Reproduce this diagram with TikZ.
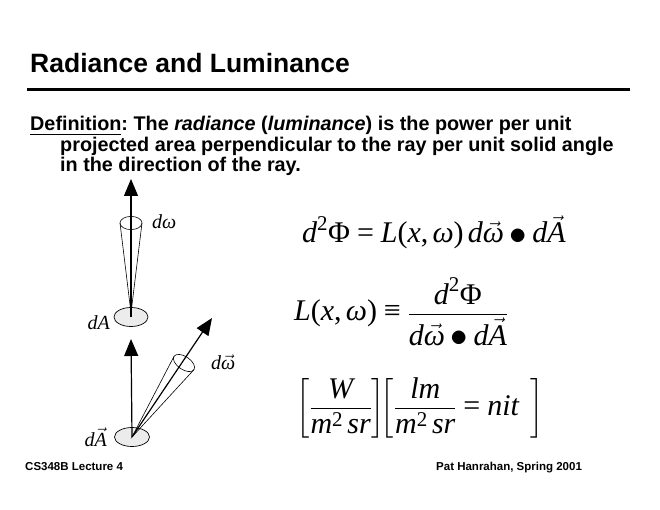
\documentclass[tikz,border=0pt]{standalone}
\usepackage{amsmath}
\usepackage{graphicx}
\usepackage{fontspec}
\setmainfont{Liberation Sans}
\newfontfamily\tms{Liberation Serif}
\usetikzlibrary{arrows.meta,shapes.geometric}
\frenchspacing
\newcommand\mi[1]{\text{\tms\itshape #1}}
\newcommand\mup[1]{\text{\tms #1}}
\newcommand\bul{\mathbin{\vcenter{\hbox{\scalebox{1.4}{$\bullet$}}}}}
\newcommand\eqs{\mathrel{\mup{=}}}
\newcommand\eqv{\mathrel{\mup{≡}}}
\tikzset{
  ray/.style={line width=1.2pt,-{Triangle[length=17pt,width=14pt]}},
  thinl/.style={line width=0.6pt},
  patch/.style={line width=0.7pt,fill=gray!15},
  lbl/.style={inner sep=0pt,font=\fontsize{20}{22}\selectfont},
  eq/.style={inner sep=0pt,font=\fontsize{30}{34}\selectfont},
  body/.style={inner sep=0pt,anchor=base west,font=\fontsize{19.8}{21}\selectfont\bfseries},
  foot/.style={inner sep=0pt,anchor=base west,font=\fontsize{11.5}{13}\selectfont\bfseries}
}
\begin{document}
\begin{tikzpicture}[x=1pt,y=-1pt]
\useasboundingbox (0,0) rectangle (660,510);
% title
\node[inner sep=0pt,anchor=base west,font=\fontsize{26.5}{30}\selectfont\bfseries] (title) at (30,73) {Radiance and Luminance};
\coordinate (rl) at (27,90);
\coordinate (rr) at (630,90);
\draw[line width=3pt] (rl) -- (rr);
% definition
\node[body] (def1) at (30,131) {\underline{Definition}: The \textit{radiance} (\textit{luminance}) is the power per unit};
\node[body] (def2) at (60,151.5) {projected area perpendicular to the ray per unit solid angle};
\node[body] (def3) at (60,172) {in the direction of the ray.};
% top diagram
\coordinate (o1) at (131,317);
\coordinate (t1) at (131,179);
\coordinate (cl) at (120,223);
\coordinate (cr) at (142,223);
\coordinate (ap) at (131,313);
\node[draw,patch,ellipse,minimum width=34pt,minimum height=19pt,inner sep=0pt] (dA1) at (o1) {};
\draw[thinl] (cl) -- (ap) -- (cr);
\draw[thinl] (131,223) ellipse [x radius=11, y radius=6.6];
\draw[ray] (o1) -- (t1);
\node[lbl,anchor=west] (dw) at (152,222) {\tms\itshape dω};
\node[lbl,anchor=east] (dAl) at (110,323) {\tms\itshape dA};
% bottom diagram
\coordinate (o2) at (132,437);
\coordinate (t2) at (131,339);
\coordinate (t3) at (212,318);
\coordinate (c3) at (184,363);
\coordinate (c3a) at (194,369.6);
\coordinate (c3b) at (174,356.4);
\node[draw,patch,ellipse,minimum width=35pt,minimum height=19pt,inner sep=0pt] (dA2) at (o2) {};
\draw[ray] (o2) -- (t2);
\draw[thinl] (c3a) -- (o2) -- (c3b);
\begin{scope}[shift={(c3)},rotate=56]
\draw[thinl] (0,0) ellipse [x radius=6.5, y radius=12];
\end{scope}
\draw[ray] (o2) -- (t3);
\node[lbl,anchor=west] (dwv) at (211,362) {$\mi{d}\vec{\mi{ω}}$};
\node[lbl,anchor=east] (dAv) at (107,437) {$\mi{d}\vec{\mi{A}}$};
% equations
\node[eq,anchor=base west] (eq1) at (302,243) {$\mi{d}^{\mup{2}}\mup{Φ}\eqs\mi{L}\mup{(}\mi{x}\mup{,}\,\mi{ω}\mup{)}\,\mi{d}\vec{\mi{ω}}\bul\mi{d}\vec{\mi{A}}$};
\node[eq,anchor=west] (eq2) at (294,312) {$\displaystyle \mi{L}\mup{(}\mi{x}\mup{,}\,\mi{ω}\mup{)}\eqv\frac{\mi{d}^{\mup{2}}\mup{Φ}}{\mi{d}\vec{\mi{ω}}\bul\mi{d}\vec{\mi{A}}}$};
\node[eq,anchor=west] (eq3) at (296,408) {$\displaystyle \left[\frac{\mi{W}}{\mi{m}^{\mup{2}}\,\mi{sr}}\right]\!\!\left[\frac{\mi{lm}}{\mi{m}^{\mup{2}}\,\mi{sr}}\eqs\mi{nit}\;\,\right]$};
% footer
\node[foot] (f1) at (25,470) {CS348B Lecture 4};
\node[foot] (f2) at (436,470) {Pat Hanrahan, Spring 2001};
\end{tikzpicture}
\end{document}
